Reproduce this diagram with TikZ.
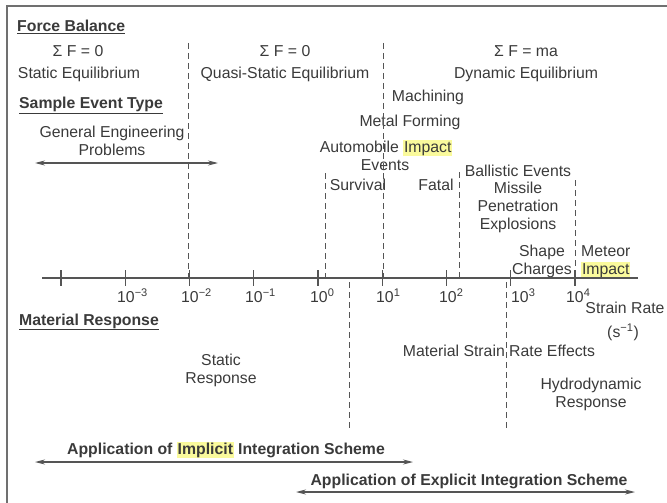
\documentclass[tikz,border=0pt]{standalone}
\usepackage{fontspec}
\setmainfont{Liberation Sans}
\usetikzlibrary{arrows.meta}
\definecolor{inkgray}{HTML}{3A3A3A}
\definecolor{linegray}{HTML}{555555}
\definecolor{framegray}{HTML}{707070}
\definecolor{hlyellow}{HTML}{FAFA9C}
\newcommand{\hlword}[1]{{\setlength{\fboxsep}{0.8pt}\colorbox{hlyellow}{#1}}}
\newcommand{\tenpow}[1]{10\textsuperscript{#1}}

\begin{document}
\begin{tikzpicture}[x=1pt,y=-1pt,
            every node/.style={inner sep=0pt, text=inkgray, font=\fontsize{15.8}{17.6}\selectfont},
            label_style/.style={anchor=base, align=center},
            head_style/.style={anchor=base west, font=\fontsize{15.8}{17.6}\selectfont\bfseries},
            div_style/.style={draw=linegray, line width=1pt, dash pattern=on 6pt off 4pt},
            axis_style/.style={draw=linegray, line width=1.2pt},
            span_style/.style={draw=linegray, line width=1.2pt, {Stealth[length=10pt,width=5pt]}-{Stealth[length=10pt,width=5pt]}}]
            \useasboundingbox (0,0) rectangle (667,503);
            \draw[framegray, line width=2pt] (7,503) -- (7,6) -- (667,6);
            % headings
            \node[head_style] (fb) at (17,32) {\underline{Force Balance}};
            \node[head_style] (se) at (19,109) {\underline{Sample Event Type}};
            \node[head_style] (mr) at (19,325) {\underline{Material Response}};
            % force balance regimes
            \node[label_style] (sf1) at (78,57) {Σ F = 0};
            \node[label_style] (eq1) at (79,79) {Static Equilibrium};
            \node[label_style] (sf2) at (285,57) {Σ F = 0};
            \node[label_style] (eq2) at (285,79) {Quasi-Static Equilibrium};
            \node[label_style] (sf3) at (526,57) {Σ F = ma};
            \node[label_style] (eq3) at (526,79) {Dynamic Equilibrium};
            % events (multi-line nodes sit on their last line)
            \node[label_style] (gen) at (112,155) {General Engineering\\Problems};
            \node[label_style] (mach) at (428,101) {Machining};
            \node[label_style] (metal) at (410,126) {Metal Forming};
            \node[label_style] (auto) at (386,152) {Automobile \hlword{Impact}};
            \node[label_style] (evt) at (385,170) {Events};
            \node[label_style] (surv) at (358,190) {Survival};
            \node[label_style] (fatal) at (436,190) {Fatal};
            \node[label_style] (ball) at (518,229) {Ballistic Events\\Missile\\Penetration\\Explosions};
            \node[label_style] (shape) at (542,274) {Shape\\Charges};
            \node[anchor=base west, align=left] (meteor) at (581,274) {Meteor\\\hlword{Impact}};
            % strain rate axis
            \coordinate (ax0) at (42,278);
            \coordinate (ax1) at (638,278);
            \draw[axis_style] (ax0) edge (ax1);
            \foreach \i in {0,...,8}{
                \coordinate (tt\i) at ({61+64.25*\i},270);
                \coordinate (tb\i) at ({61+64.25*\i},286);
                \draw[axis_style] (tt\i) edge (tb\i);
            }
            \node[anchor=base west] (p1) at (117,302) {\tenpow{−3}};
            \node[anchor=base west] (p2) at (181,302) {\tenpow{−2}};
            \node[anchor=base west] (p3) at (245,302) {\tenpow{−1}};
            \node[anchor=base west] (p4) at (310,302) {\tenpow{0}};
            \node[anchor=base west] (p5) at (376,302) {\tenpow{1}};
            \node[anchor=base west] (p6) at (439,302) {\tenpow{2}};
            \node[anchor=base west] (p7) at (511,302) {\tenpow{3}};
            \node[anchor=base west] (p8) at (566,302) {\tenpow{4}};
            \node[label_style] (sr) at (625,313) {Strain Rate};
            \node[label_style] (unit) at (623,337) {(s\textsuperscript{−1})};
            % regime dividers
            \coordinate (d1t) at (188,43);  \coordinate (d1b) at (188,278);
            \coordinate (d2t) at (383,43);  \coordinate (d2b) at (383,278);
            \coordinate (d3t) at (325,173); \coordinate (d3b) at (325,278);
            \coordinate (d4t) at (459,172); \coordinate (d4b) at (459,278);
            \coordinate (d5t) at (575,180); \coordinate (d5b) at (575,278);
            \coordinate (d6t) at (349,282); \coordinate (d6b) at (349,430);
            \coordinate (d7t) at (506,282); \coordinate (d7b) at (506,430);
            \draw[div_style] (d1t) edge (d1b);
            \draw[div_style] (d2t) edge (d2b);
            \draw[div_style] (d3t) edge (d3b);
            \draw[div_style] (d4t) edge (d4b);
            \draw[div_style] (d5t) edge (d5b);
            \draw[div_style] (d6t) edge (d6b);
            \draw[div_style] (d7t) edge (d7b);
            % material response
            \node[label_style] (stat) at (221,383) {Static\\Response};
            \node[label_style] (msr) at (499,356) {Material Strain Rate Effects};
            \node[label_style] (hydro) at (591,407) {Hydrodynamic\\Response};
            % integration schemes
            \node[label_style, font=\fontsize{15.8}{17.6}\selectfont\bfseries] (impl) at (226,454) {Application of \hlword{Implicit} Integration Scheme};
            \node[label_style, font=\fontsize{15.8}{17.6}\selectfont\bfseries] (expl) at (469,485) {Application of Explicit Integration Scheme};
            \coordinate (g0) at (35,163);  \coordinate (g1) at (218,163);
            \coordinate (i0) at (35,462);  \coordinate (i1) at (413,462);
            \coordinate (e0) at (296,492); \coordinate (e1) at (635,492);
            \draw[span_style] (g0) -- (g1);
            \draw[span_style] (i0) -- (i1);
            \draw[span_style] (e0) -- (e1);
        \end{tikzpicture}
\end{document}
